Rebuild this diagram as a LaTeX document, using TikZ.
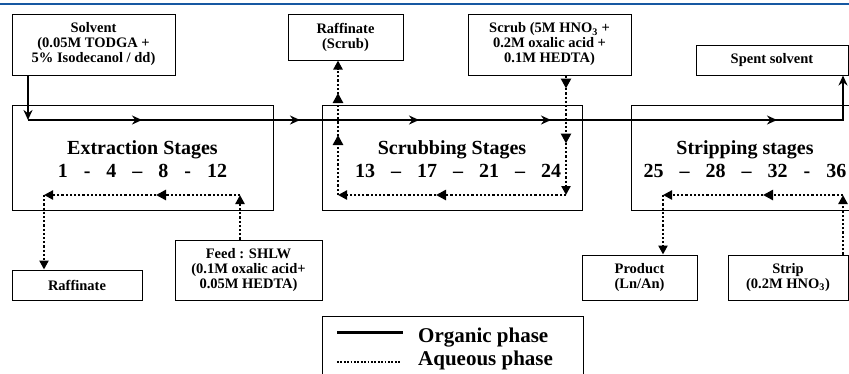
\documentclass[tikz,border=0pt]{standalone}
\usepackage{fontspec}
\setmainfont{Liberation Serif}
\usetikzlibrary{arrows.meta,decorations.markings}
\definecolor{rulecol}{RGB}{22,88,162}
\newcommand{\gp}{\hspace{16pt}}
\tikzset{
  box/.style={draw,line width=1pt,align=center,inner sep=1pt,font=\bfseries\fontsize{14.5}{15}\selectfont},
  stage/.style={draw,line width=1pt,inner sep=0pt},
  stagetxt/.style={anchor=base,inner sep=0pt,font=\bfseries\fontsize{20}{22}\selectfont},
  legtxt/.style={anchor=base west,inner sep=0pt,font=\bfseries\fontsize{21}{23}\selectfont},
  organic/.style={line width=2.8pt},
  aqueous/.style={line width=2.6pt,dash pattern=on 2.2pt off 2pt},
  otip/.style={-{Stealth[length=10pt,width=9pt]}},
  atip/.style={-{Triangle[length=9pt,width=9pt]}},
  omark/.style={postaction={decorate,decoration={markings,mark=at position #1 with {\arrow{Stealth[length=10pt,width=9pt]}}}}},
  amark/.style={postaction={decorate,decoration={markings,mark=at position #1 with {\arrow{Triangle[length=10pt,width=10pt]}}}}}
}
\begin{document}
\begin{tikzpicture}[x=1pt,y=-1pt]
\clip (0,0) rectangle (849,373);
\draw[rulecol,line width=2pt] (0,4) to (849,4);
\node[stage,minimum width=261pt,minimum height=105pt] (ext) at (142.5,157.5) {};
\node[stage,minimum width=260pt,minimum height=105pt] (scr) at (452,157.5) {};
\node[stage,minimum width=240pt,minimum height=105pt] (stp) at (751,157.5) {};
\node[stagetxt] (extT) at (142.5,154) {Extraction Stages};
\node[stagetxt] (extN) at (142.5,177) {1\gp-\gp4\gp--\gp8\gp-\gp12};
\node[stagetxt] (scrT) at (452,154) {Scrubbing Stages};
\node[stagetxt] (scrN) at (458,177) {13\gp--\gp17\gp--\gp21\gp--\gp24};
\node[stagetxt] (stpT) at (745,154) {Stripping stages};
\node[stagetxt] (stpN) at (745,177) {25\gp--\gp28\gp--\gp32\gp-\gp36};
\node[box,minimum width=163pt,minimum height=61pt] (solvent) at (93.5,44.5) {Solvent\\(0.05M TODGA +\\5\% Isodecanol / dd)};
\node[box,minimum width=115pt,minimum height=46pt] (raffS) at (345.5,37) {Raffinate\\(Scrub)};
\node[box,minimum width=163pt,minimum height=61pt] (scrub) at (549.5,44.5) {Scrub (5M HNO\textsubscript{3} +\\0.2M oxalic acid +\\0.1M HEDTA)};
\node[box,minimum width=152pt,minimum height=30pt] (spent) at (772,60) {Spent solvent};
\node[box,minimum width=130pt,minimum height=30pt] (raffE) at (77,285) {Raffinate};
\node[box,minimum width=147pt,minimum height=60pt] (feed) at (248.5,270) {Feed : SHLW\\(0.1M oxalic acid+\\0.05M HEDTA)};
\node[box,minimum width=115pt,minimum height=45pt] (product) at (639.5,277.5) {Product\\(Ln/An)};
\node[box,minimum width=120pt,minimum height=45pt] (strip) at (788,277.5) {Strip\\(0.2M HNO\textsubscript{3})};
\coordinate (o1) at (28,120);
\coordinate (o2) at (843,120);
\draw[organic,otip] (solvent.south -| o1) to (o1);
\draw[organic,otip,omark=114pt,omark=272pt,omark=391pt,omark=523pt,omark=749pt] (o1) -- (o2) -- (spent.south -| o2);
\coordinate (e1) at (240,195);
\coordinate (e2) at (44,195);
\draw[aqueous,atip] (feed.north -| e1) to (e1);
\draw[aqueous,atip,amark=84pt] (e1) to (e2);
\draw[aqueous,atip] (e2) to (raffE.north -| e2);
\coordinate (s1) at (566,195);
\coordinate (s2) at (338,195);
\draw[aqueous,atip,amark=13pt,amark=68pt] (scrub.south -| s1) to (s1);
\draw[aqueous,atip,amark=130pt] (s1) to (s2);
\draw[aqueous,atip,amark=60pt,amark=102pt] (s2) to (raffS.south -| s2);
\coordinate (t1) at (843,195);
\coordinate (t2) at (663,195);
\draw[aqueous,atip] (strip.north -| t1) to (t1);
\draw[aqueous,atip,amark=80pt] (t1) to (t2);
\draw[aqueous,atip] (t2) to (product.north -| t2);
\node[stage,minimum width=261pt,minimum height=84pt] (legend) at (452.5,358) {};
\draw[line width=3pt] (337,332) to (403,332);
\draw[line width=2pt,dash pattern=on 1.8pt off 1.6pt] (337,362) to (400,362);
\node[legtxt] (legO) at (418,342) {Organic phase};
\node[legtxt] (legA) at (418,365) {Aqueous phase};
\end{tikzpicture}
\end{document}
